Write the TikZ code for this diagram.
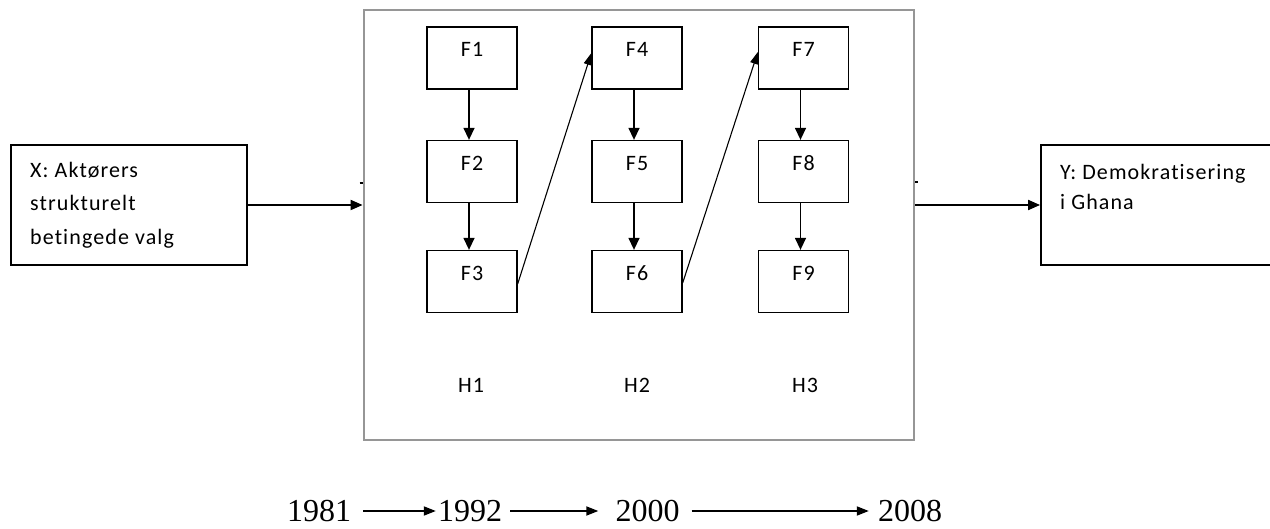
\documentclass[tikz,border=0pt]{standalone}
\usepackage{fontspec}
\newfontfamily\labelfont[LetterSpace=5,Ligatures=NoCommon]{Carlito}
\newfontfamily\yearfont{Liberation Serif}
\usetikzlibrary{arrows.meta,calc}
\begin{document}
\begin{tikzpicture}[x=1pt,y=-1pt,
  lbl/.style={inner sep=0, font=\labelfont\fontsize{22}{26}\selectfont},
  fbox/.style={lbl, draw, line width=1.3, minimum width=90, minimum height=62,
    text height=30pt, text depth=32pt},
  framebox/.style={draw={rgb,255:red,150;green,150;blue,150}, line width=2.8,
    minimum width=550, minimum height=430, inner sep=0},
  sidebox/.style={draw, line width=1.8, minimum height=120, inner sep=0},
  bigarrow/.style={line width=1.8, -{Triangle[length=12,width=10]}},
  farrow/.style={line width=1.4, -{Triangle[length=12,width=11]}},
  diagarrow/.style={line width=1.1, -{Triangle[length=12,width=8]}},
  tlarrow/.style={line width=1.8, -{Triangle[length=12,width=9]}},
  year/.style={inner sep=0, anchor=base, font=\yearfont\fontsize{32}{36}\selectfont}]
\useasboundingbox (0,0) rectangle (1270,529);

% outer frame of the three phases
\node[framebox] (frame) at (639,225) {};
\draw[line width=2] ($(frame.west)+(-3,-42)$) -- ($(frame.west)+(0,-42)$);
\draw[line width=2] ($(frame.east)+(0,-43)$) -- ($(frame.east)+(3,-43)$);

% independent variable
\node[sidebox, minimum width=236] (xbox) at (129,205) {};
\node[lbl, anchor=base west] (x1) at (30,177.7) {X: Aktørers};
\node[lbl, anchor=base west] (x2) at (30,211) {strukturelt};
\node[lbl, anchor=base west] (x3) at (30,245) {betingede valg};

% dependent variable (runs off the right edge)
\begin{scope}
\clip (0,0) rectangle (1270,529);
\node[sidebox, minimum width=249] (ybox) at (1165.5,205) {};
\end{scope}
\node[lbl, anchor=base west] (y1) at (1060,180) {Y: Demokratisering};
\node[lbl, anchor=base west] (y2) at (1060,210) {i Ghana};

\draw[bigarrow] (xbox.east) -- (xbox.east -| frame.west);
\draw[bigarrow] (frame.east |- ybox.west) -- (ybox.west);

% phase boxes
\foreach \n/\x/\y in {1/472/58, 2/472/171.5, 3/472/281.5,
                      4/637/58, 5/637/171.5, 6/637/281.5,
                      7/803.5/58, 8/803.5/171.5, 9/803.5/281.5}
  \node[fbox] (F\n) at (\x,\y) {F\n};

\foreach \a/\b in {1/2, 2/3, 4/5, 5/6, 7/8, 8/9}
  \draw[farrow] ([xshift=-3pt]F\a.south) -- ([xshift=-3pt]F\b.north);

\draw[diagarrow] ([yshift=-2.5pt]F3.east) -- ([yshift=5pt]F4.west);
\draw[diagarrow] ([yshift=-1.5pt]F6.east) -- ([yshift=6pt]F7.west);

% phase labels
\node[lbl, anchor=base] (H1) at (471,393) {H1};
\node[lbl, anchor=base] (H2) at (637,393) {H2};
\node[lbl, anchor=base] (H3) at (805,393) {H3};

% time line
\node[year] (t1) at (319,521) {1981};
\node[year] (t2) at (470,521) {1992};
\node[year] (t3) at (647.5,521) {2000};
\node[year] (t4) at (910,521) {2008};

\draw[tlarrow] ([xshift=12pt,yshift=10pt]t1.base east) -- ([xshift=-2pt,yshift=10pt]t2.base west);
\draw[tlarrow] ([xshift=8pt,yshift=10pt]t2.base east) -- ([xshift=-17pt,yshift=10pt]t3.base west);
\draw[tlarrow] ([xshift=12pt,yshift=10pt]t3.base east) -- ([xshift=-9pt,yshift=10pt]t4.base west);
\end{tikzpicture}
\end{document}
